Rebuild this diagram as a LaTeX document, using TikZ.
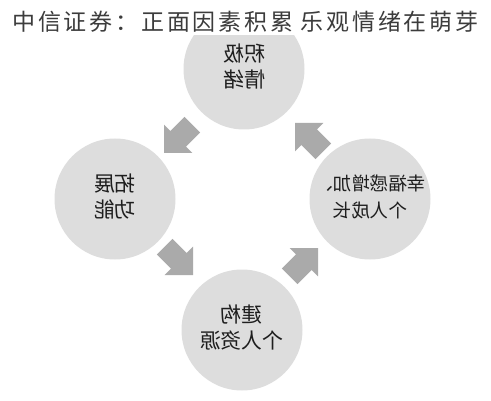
\documentclass[tikz,border=0pt]{standalone}
\usepackage{fontspec}
\usepackage{graphicx}
\newfontfamily\cjk{Noto Sans CJK SC}
\newfontfamily\cjktitle[LetterSpace=12]{Noto Sans CJK SC}
\definecolor{circgray}{RGB}{221,221,221}
\definecolor{arrowgray}{RGB}{170,170,170}
\definecolor{textdark}{RGB}{30,30,30}
\definecolor{titlegray}{RGB}{60,60,60}
\begin{document}
\begin{tikzpicture}[x=1pt,y=1pt,
  circ/.style={circle, fill=circgray, draw=none, minimum size=121pt, inner sep=0pt},
  lab/.style={font=\cjk\fontsize{21}{26}\selectfont, text=textdark, align=center, inner sep=0pt},
  labsmall/.style={font=\cjk\fontsize{18.5}{27}\selectfont, text=textdark, align=center, inner sep=0pt},
  titlestyle/.style={font=\cjktitle\fontsize{23}{28}\selectfont, text=titlegray, inner sep=0pt},
  blockarrow/.style={fill=arrowgray, draw=none}
]
\useasboundingbox (0,0) rectangle (491,400);
% circles
\node[circ] (top) at (244,331) {};
\node[circ] (left) at (115,201) {};
\node[circ] (right) at (370,201) {};
\node[circ] (bottom) at (242,70) {};
% white band behind title
\fill[white] (0,365) rectangle (491,400);
\node[titlestyle] (title) at (245.5,378) {中信证券：正面因素积累 乐观情绪在萌芽};
% mirrored labels
\node[lab] (ltop) at (top) {\reflectbox{\begin{tabular}{@{}c@{}}积极\\情绪\end{tabular}}};
\node[lab] (lleft) at (left) {\reflectbox{\begin{tabular}{@{}c@{}}拓展\\功能\end{tabular}}};
\node[labsmall] (lright) at (right) {\reflectbox{\begin{tabular}{@{}c@{}}幸福感增加、\\个人成长\end{tabular}}};
\node[lab] (lbottom) at (bottom) {\reflectbox{\begin{tabular}{@{}c@{}}建构\\个人资源\end{tabular}}};
% block arrows (tip at origin, pointing along +x before rotation)
\coordinate (t1) at (164,247);
\coordinate (t2) at (193,125);
\coordinate (t3) at (318,152);
\coordinate (t4) at (295,277);
\fill[blockarrow, shift={(t1)}, rotate=225] (0,0) -- (-20,20) -- (-20,11) -- (-40,11) -- (-40,-11) -- (-20,-11) -- (-20,-20) -- cycle;
\fill[blockarrow, shift={(t2)}, rotate=-45] (0,0) -- (-20,20) -- (-20,11) -- (-40,11) -- (-40,-11) -- (-20,-11) -- (-20,-20) -- cycle;
\fill[blockarrow, shift={(t3)}, rotate=45] (0,0) -- (-20,20) -- (-20,11) -- (-40,11) -- (-40,-11) -- (-20,-11) -- (-20,-20) -- cycle;
\fill[blockarrow, shift={(t4)}, rotate=135] (0,0) -- (-20,20) -- (-20,11) -- (-40,11) -- (-40,-11) -- (-20,-11) -- (-20,-20) -- cycle;
\end{tikzpicture}
\end{document}
